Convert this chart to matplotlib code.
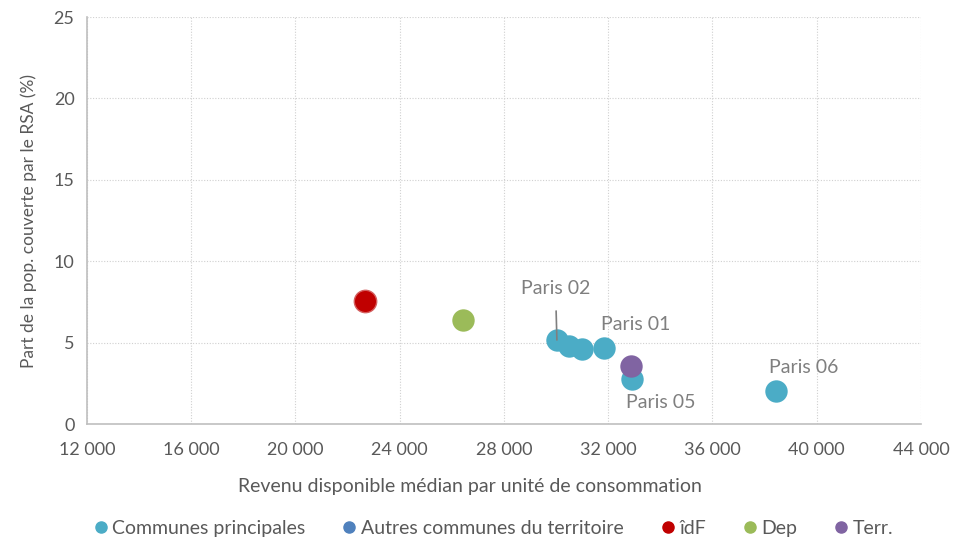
import matplotlib.pyplot as plt
from matplotlib.lines import Line2D
from matplotlib.ticker import FuncFormatter

plt.rcParams['font.family'] = ['Lato', 'DejaVu Sans']

# Communes principales (Paris arrondissements)
communes_x = [30030, 30490, 30990, 31840, 32910, 38440]
communes_y = [5.16, 4.79, 4.61, 4.67, 2.76, 2.03]
communes_labels = ["Paris 02", "", "", "Paris 01", "Paris 05", "Paris 06"]

idf_x = [22670]
idf_y = [7.55]
dep_x = [26430]
dep_y = [6.39]
terr_x = [32870]
terr_y = [3.56]

c_communes = "#4BACC6"
c_autres = "#4F81BD"
c_idf = "#C00000"
c_dep = "#9BBB59"
c_terr = "#8064A2"
grey = "#595959"

fig = plt.figure(figsize=(9.71, 5.40), dpi=100)
ax = fig.add_axes([0.0896, 0.2148, 0.8589, 0.7537])

ms = 260
ax.scatter(communes_x, communes_y, s=ms, color=c_communes, zorder=3, linewidths=0)
ax.scatter(idf_x, idf_y, s=ms, color=c_idf, zorder=3, edgecolors="#d46060", linewidths=1)
ax.scatter(dep_x, dep_y, s=ms, color=c_dep, zorder=3, linewidths=0)
ax.scatter(terr_x, terr_y, s=ms, color=c_terr, zorder=4, linewidths=0)

lab_style = dict(fontsize=14, color="#7f7f7f", ha="center", va="center")
ax.annotate(communes_labels[0], xy=(communes_x[0], communes_y[0]), xytext=(-1, 37),
            textcoords="offset points", arrowprops=dict(arrowstyle="-", color="#7f7f7f", lw=1.2,
                                                        shrinkA=8, shrinkB=0), **lab_style)
ax.annotate(communes_labels[3], xy=(communes_x[3], communes_y[3]), xytext=(23, 17),
            textcoords="offset points", **lab_style)
ax.annotate(communes_labels[4], xy=(communes_x[4], communes_y[4]), xytext=(21, -17),
            textcoords="offset points", **lab_style)
ax.annotate(communes_labels[5], xy=(communes_x[5], communes_y[5]), xytext=(20, 17),
            textcoords="offset points", **lab_style)

ax.set_xlim(12000, 44000)
ax.set_ylim(0, 25)
ax.set_xticks(range(12000, 44001, 4000))
ax.set_yticks(range(0, 26, 5))
ax.xaxis.set_major_formatter(FuncFormatter(lambda v, p: f"{int(v):,}".replace(",", " ")))
ax.tick_params(length=0, labelsize=13, colors=grey)
ax.tick_params(axis="x", pad=13)
ax.tick_params(axis="y", pad=9)
ax.grid(True, color="#d0d0d0", linestyle=(0, (1, 1.5)), linewidth=0.8)
ax.set_axisbelow(True)
for s in ["top", "right"]:
    ax.spines[s].set_visible(False)
for s in ["left", "bottom"]:
    ax.spines[s].set_color("#bfbfbf")
    ax.spines[s].set_linewidth(1.2)

ax.set_xlabel("Revenu disponible médian par unité de consommation", fontsize=14, color=grey)
ax.xaxis.set_label_coords(0.459, -0.133)
ax.set_ylabel("Part de la pop. couverte par le RSA (%)", fontsize=12.5, color=grey, labelpad=12)

handles = [Line2D([], [], marker="o", linestyle="", markersize=8, color=c)
           for c in [c_communes, c_autres, c_idf, c_dep, c_terr]]
names = ["Communes principales", "Autres communes du territoire", "îdF", "Dep", "Terr."]
fig.legend(handles, names, loc="center", bbox_to_anchor=(0.507, 0.022), ncol=5, frameon=False,
           fontsize=14, labelcolor=grey, handletextpad=0.1, columnspacing=1.75, handlelength=1.0)

fig.savefig("out.png", dpi=100)
